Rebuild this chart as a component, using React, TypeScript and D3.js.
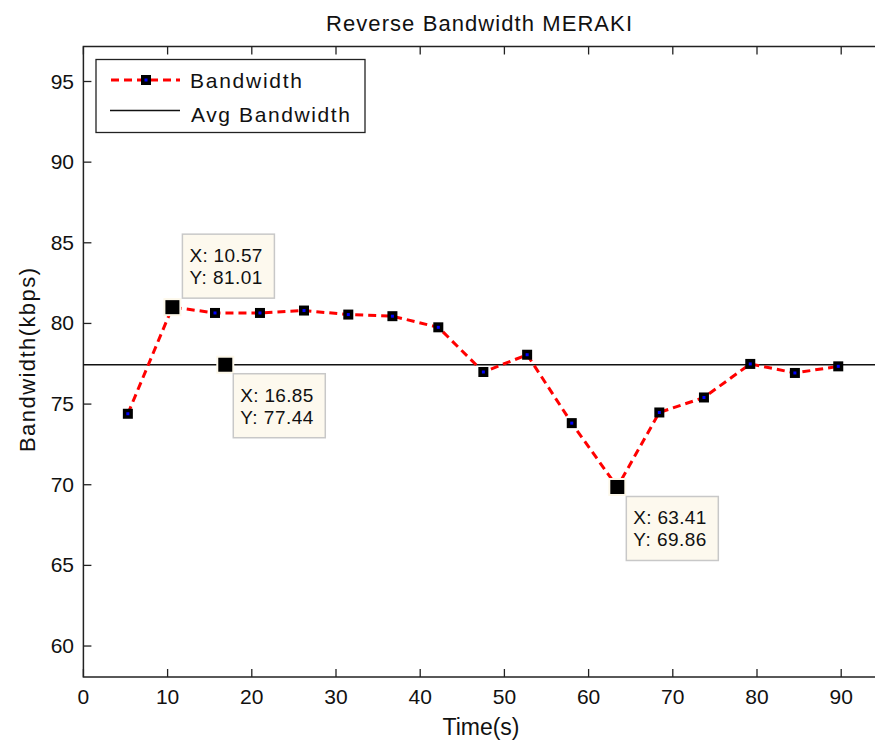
import React from "react";
import * as d3 from "d3";

const timeValues = [5.28, 10.57, 15.63, 20.97, 26.2, 31.46, 36.7, 42.15, 47.5, 52.7, 58.0, 63.41, 68.4, 73.7, 79.2, 84.5, 89.65];
const bandwidthValues = [74.4, 81.01, 80.65, 80.65, 80.8, 80.55, 80.45, 79.76, 76.99, 78.06, 73.82, 69.86, 74.48, 75.41, 77.49, 76.93, 77.34];
const avgBandwidth = 77.44;
const xTicks = [0, 10, 20, 30, 40, 50, 60, 70, 80, 90];
const yTicks = [60, 65, 70, 75, 80, 85, 90, 95];
const dataTips = [
  { x: 10.57, y: 81.01, lines: ["X: 10.57", "Y: 81.01"], dx: 10, dy: -73 },
  { x: 16.85, y: 77.44, lines: ["X: 16.85", "Y: 77.44"], dx: 8, dy: 9 },
  { x: 63.41, y: 69.86, lines: ["X: 63.41", "Y: 69.86"], dx: 9, dy: 9.5 },
];

const W = 875;
const H = 743;
const left = 83.4;
const right = 883.3;
const top = 46.5;
const bottom = 677;
const FONT = "'Liberation Sans', Arial, sans-serif";

export default function App() {
  const x = d3.scaleLinear().domain([0, 95]).range([left, right]);
  const y = d3.scaleLinear().domain([58.08, 97.17]).range([bottom, top]);
  const line = d3
    .line<number>()
    .x((_, i) => x(timeValues[i]))
    .y((d) => y(d));
  const tickLen = 8;

  return (
    <svg
      width={W}
      height={H}
      style={{ position: "absolute", left: 0, top: 0, background: "#fff" }}
      fontFamily={FONT}
    >
      <rect x={0} y={0} width={W} height={H} fill="#fff" />
      {/* title */}
      <text x={326} y={31} fontSize={22} fill="#111" textLength={306} lengthAdjust="spacing">
        Reverse Bandwidth MERAKI
      </text>
      {/* axes box */}
      <rect x={left} y={top} width={right - left} height={bottom - top} fill="none" stroke="#222" strokeWidth={1.5} />
      {xTicks.map((t) => (
        <g key={"x" + t}>
          <line x1={x(t)} x2={x(t)} y1={bottom} y2={bottom - tickLen} stroke="#222" strokeWidth={1.3} />
          <line x1={x(t)} x2={x(t)} y1={top} y2={top + tickLen} stroke="#222" strokeWidth={1.3} />
          <text x={x(t)} y={704} textAnchor="middle" fontSize={21} fill="#111">
            {t}
          </text>
        </g>
      ))}
      {yTicks.map((t) => (
        <g key={"y" + t}>
          <line x1={left} x2={left + tickLen} y1={y(t)} y2={y(t)} stroke="#222" strokeWidth={1.3} />
          <line x1={right} x2={right - tickLen} y1={y(t)} y2={y(t)} stroke="#222" strokeWidth={1.3} />
          <text x={74} y={y(t) + 7} textAnchor="end" fontSize={21} fill="#111">
            {t}
          </text>
        </g>
      ))}
      <text x={481} y={735} textAnchor="middle" fontSize={23} fill="#111">
        Time(s)
      </text>
      <text
        transform={`translate(35,${452}) rotate(-90)`}
        fontSize={22}
        fill="#111"
        textLength={184}
        lengthAdjust="spacing"
      >
        Bandwidth(kbps)
      </text>

      {/* avg line */}
      <line x1={left} x2={right} y1={y(avgBandwidth)} y2={y(avgBandwidth)} stroke="#111" strokeWidth={1.3} />

      {/* data line */}
      <path d={line(bandwidthValues) || ""} fill="none" stroke="#f00" strokeWidth={3} strokeDasharray="8,5" />
      {bandwidthValues.map((v, i) => (
        <g key={"m" + i}>
          <rect x={x(timeValues[i]) - 5} y={y(v) - 5} width={10} height={10} fill="#000" />
          <rect x={x(timeValues[i]) - 1.5} y={y(v) - 1.5} width={3} height={3} fill="#00f" />
        </g>
      ))}

      {/* data tips */}
      {dataTips.map((d, i) => {
        const px = x(d.x);
        const py = y(d.y);
        const bx = px + d.dx;
        const by = py + d.dy;
        return (
          <g key={"tip" + i}>
            <rect x={px - 9} y={py - 9} width={18} height={18} fill="#fdf8ea" />
            <rect x={px - 7} y={py - 7} width={14} height={14} fill="#000" />
            <rect x={bx} y={by} width={92} height={64} fill="#fdf9ee" stroke="#c8c8c8" strokeWidth={1.5} />
            <text x={bx + 7} y={by + 28} fontSize={19} fill="#111" textLength={73} lengthAdjust="spacing">
              {d.lines[0]}
            </text>
            <text x={bx + 7} y={by + 50} fontSize={19} fill="#111" textLength={73} lengthAdjust="spacing">
              {d.lines[1]}
            </text>
          </g>
        );
      })}

      {/* legend */}
      <rect x={96} y={59.5} width={269} height={73} fill="#fff" stroke="#222" strokeWidth={1.3} />
      <line x1={111} x2={180} y1={80} y2={80} stroke="#f00" strokeWidth={3} strokeDasharray="8,5" />
      <rect x={141} y={75} width={10} height={10} fill="#000" />
      <rect x={144.5} y={78.5} width={3} height={3} fill="#00f" />
      <text x={190} y={88} fontSize={21} fill="#111" textLength={112} lengthAdjust="spacing">
        Bandwidth
      </text>
      <line x1={110} x2={180} y1={110.5} y2={110.5} stroke="#111" strokeWidth={1.3} />
      <text x={191} y={122} fontSize={21} fill="#111" textLength={159} lengthAdjust="spacing">
        Avg Bandwidth
      </text>
    </svg>
  );
}
